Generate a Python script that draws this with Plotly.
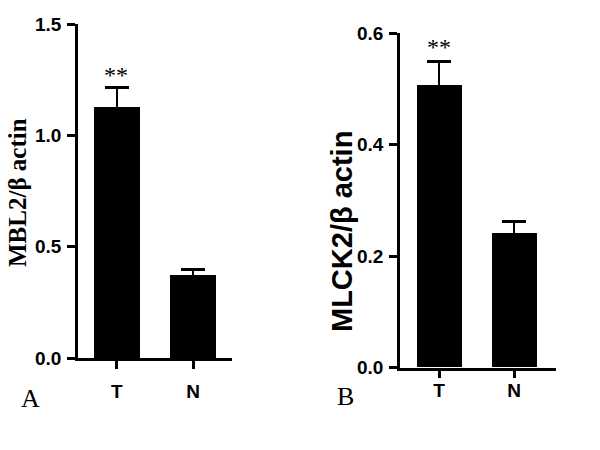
import plotly.graph_objects as go

# data
groups = ["T", "N"]
mbl2_mean = [1.128, 0.371]
mbl2_sem = [0.087, 0.027]
mlck2_mean = [0.506, 0.241]
mlck2_sem = [0.043, 0.021]

W, H = 600, 450
sans = "Arial, Liberation Sans, sans-serif"
serif = "Times New Roman, Liberation Serif, serif"


def px_x(v):
    return v / W


def px_y(v):
    return 1 - v / H


fig = go.Figure()

# error bars are symmetric; the lower half is hidden inside the black bar
fig.add_trace(go.Bar(
    x=groups, y=mbl2_mean, width=0.6, marker=dict(color="black", line=dict(width=0)),
    error_y=dict(type="data", array=mbl2_sem, color="black", thickness=2.5, width=12),
    xaxis="x", yaxis="y", showlegend=False))

fig.add_trace(go.Bar(
    x=groups, y=mlck2_mean, width=0.6, marker=dict(color="black", line=dict(width=0)),
    error_y=dict(type="data", array=mlck2_sem, color="black", thickness=2.5, width=12),
    xaxis="x2", yaxis="y2", showlegend=False))

axis_common = dict(showline=True, linecolor="black", linewidth=2.5, ticks="outside",
                   ticklen=8, tickwidth=2.5, tickcolor="black", showgrid=False,
                   zeroline=False, automargin=False,
                   tickfont=dict(family=sans, size=19, color="black", weight="bold"))

fig.update_layout(
    template="none",
    width=W, height=H,
    margin=dict(l=0, r=0, t=0, b=0),
    plot_bgcolor="white", paper_bgcolor="white",
    bargap=0,
    xaxis=dict(domain=[px_x(78), px_x(232)], range=[-0.51, 1.51], anchor="y",
               ticklabelstandoff=6, **axis_common),
    yaxis=dict(domain=[px_y(358), px_y(24)], range=[0, 1.5], anchor="x",
               tickvals=[0, 0.5, 1.0, 1.5], tickformat=".1f", ticklabelstandoff=2, **axis_common),
    xaxis2=dict(domain=[px_x(400), px_x(556)], range=[-0.52, 1.56], anchor="y2",
                ticklabelstandoff=-4, **axis_common),
    yaxis2=dict(domain=[px_y(367.7), px_y(33.3)], range=[0, 0.6], anchor="x2",
                tickvals=[0, 0.2, 0.4, 0.6], tickformat=".1f", ticklabelstandoff=2, **axis_common),
)

annotations = [
    dict(text="<b>MBL2/β actin</b>", x=px_x(17), y=px_y(193), textangle=-90,
         font=dict(family=serif, size=25, color="black")),
    dict(text="<b>MLCK2/β actin</b>", x=px_x(342), y=px_y(231), textangle=-90,
         font=dict(family=sans, size=29, color="black")),
    dict(text="**", x=px_x(116), y=px_y(75), font=dict(family=serif, size=24, color="black")),
    dict(text="**", x=px_x(439), y=px_y(47), font=dict(family=serif, size=24, color="black")),
    dict(text="A", x=px_x(30), y=px_y(398), font=dict(family=serif, size=26, color="black")),
    dict(text="B", x=px_x(345), y=px_y(396), font=dict(family=serif, size=26, color="black")),
]
for a in annotations:
    fig.add_annotation(xref="paper", yref="paper", showarrow=False,
                       xanchor="center", yanchor="middle", **a)

fig.write_html("out.html", config={"displayModeBar": False},
               post_script="document.body.style.margin='0';")
